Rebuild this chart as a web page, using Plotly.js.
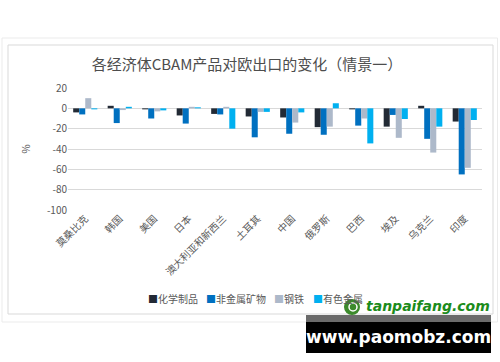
<!DOCTYPE html>
<html>
<head>
<meta charset="utf-8">
<script src="https://cdn.plot.ly/plotly-3.0.1.min.js"></script>
<style>
html,body{margin:0;padding:0;background:#fff;}
#chart{width:500px;height:362px;}
</style>
</head>
<body>
<div id="chart"></div>
<script>
// ---- data ----
var categories = ['莫桑比克','韩国','美国','日本','澳大利亚和新西兰','土耳其','中国','俄罗斯','巴西','埃及','乌克兰','印度'];
var seriesNames = ['化学制品','非金属矿物','钢铁','有色金属'];
var chemical   = [-4, 2.5, -1, -7, -5.5, -8, -9, -18.5, -1, -18, 2.5, -13];
var nonmetal   = [-6, -14.5, -10, -15, -6, -28.5, -25, -26, -17, -6.5, -30, -65];
var steel      = [10, -1.7, -3, 1.5, 1.5, -3.5, -14, -18, -10, -29, -43.5, -58.5];
var nonferrous = [-1, 1.5, -2, 1, -20, -3.5, -4, 5, -34.5, -10.5, -18, -11.5];
var tickVals   = [20, 0, -20, -40, -60, -80, -100];
var tickLabels = ['20', '0', '-20', '-40', '-60', '-80', '-100'];

var colors = ['#222A35', '#0070C0', '#ADB9CA', '#00B0F0'];
var seriesValues = [chemical, nonmetal, steel, nonferrous];

var traces = seriesValues.map(function(vals, i){
  return {type:'bar', name:seriesNames[i], x:categories, y:vals,
          marker:{color:colors[i], line:{width:0}}, showlegend:false, hoverinfo:'skip'};
});

// geometry helpers (plot area in px)
var L=68, R=482, T=88, B=210, W=500, H=362;
function px(x){ return (x-L)/(R-L); }
function py(y){ return (B-y)/(B-T); }

var shapes = [
  {type:'rect', xref:'paper', yref:'paper', x0:px(2), x1:px(497.5), y0:py(322), y1:py(38), line:{color:'#ebebeb', width:1}, fillcolor:'rgba(0,0,0,0)', layer:'below'},
  {type:'rect', xref:'paper', yref:'paper', x0:px(8), x1:px(493), y0:py(314), y1:py(45), line:{color:'#d9d9d9', width:1}, fillcolor:'rgba(0,0,0,0)', layer:'below'},
  // watermark boxes
  {type:'rect', xref:'paper', yref:'paper', x0:px(306), x1:px(491), y0:py(353), y1:py(315), line:{width:0}, fillcolor:'#000000', layer:'above'},
  {type:'rect', xref:'paper', yref:'paper', x0:px(306), x1:px(491), y0:py(322), y1:py(315), line:{width:0}, fillcolor:'#6b6b6b', layer:'above'},
  {type:'circle', xref:'paper', yref:'paper', x0:px(344), x1:px(360), y0:py(315), y1:py(299), line:{width:0}, fillcolor:'#3c8a2c', layer:'above'},
  {type:'circle', xref:'paper', yref:'paper', x0:px(349), x1:px(357), y0:py(311), y1:py(303), line:{color:'#ffffff', width:1.5}, fillcolor:'rgba(0,0,0,0)', layer:'above'}
];

var annotations = [];
var legendX = [146, 204, 272, 311];
seriesNames.forEach(function(n, i){
  annotations.push({xref:'paper', yref:'paper', x:px(legendX[i]), y:py(298), xanchor:'left', yanchor:'middle',
    showarrow:false, text:'<span style="color:'+colors[i]+'">■</span>'+n,
    font:{family:'Noto Sans CJK SC', size:10, color:'#595959'}});
});
annotations.push({xref:'paper', yref:'paper', x:px(428), y:py(306), xanchor:'center', yanchor:'middle', showarrow:false,
  text:'<b><i>tanpaifang.com</i></b>', font:{family:'DejaVu Sans', size:14, color:'#1c8c1c'}});
annotations.push({xref:'paper', yref:'paper', x:px(398), y:py(337), xanchor:'center', yanchor:'middle', showarrow:false,
  text:'<b>www.paomobz.com</b>', font:{family:'DejaVu Sans', size:17, color:'#ffffff'}});

var layout = {
  width:W, height:H,
  margin:{l:L, r:W-R, t:T, b:H-B, pad:0},
  paper_bgcolor:'#ffffff', plot_bgcolor:'#ffffff',
  barmode:'group', bargap:0.30, bargroupgap:0,
  font:{family:'Noto Sans CJK SC', color:'#595959'},
  title:{text:'各经济体CBAM产品对欧出口的变化（情景一）', x:0.494, xref:'container', y:1-65/362, yref:'container',
         xanchor:'center', yanchor:'middle', font:{family:'Noto Sans CJK SC', size:15, color:'#4d4d4d'}},
  xaxis:{type:'category', tickangle:-45, tickfont:{size:10, color:'#595959'}, showgrid:false, showline:false,
         ticks:'', zeroline:false, automargin:false, fixedrange:true},
  yaxis:{range:[-100,20], tickvals:tickVals, ticktext:tickLabels, tickfont:{size:10, color:'#595959'},
         showgrid:true, gridcolor:'#d9d9d9', gridwidth:1, zeroline:true, zerolinecolor:'#d9d9d9', zerolinewidth:1,
         showline:false, ticks:'', ticklen:0, automargin:false, fixedrange:true,
         title:{text:'%', standoff:14, font:{size:10, color:'#595959'}}},
  shapes:shapes,
  annotations:annotations
};

Plotly.newPlot('chart', traces, layout, {displayModeBar:false, staticPlot:true});
</script>
</body>
</html>
